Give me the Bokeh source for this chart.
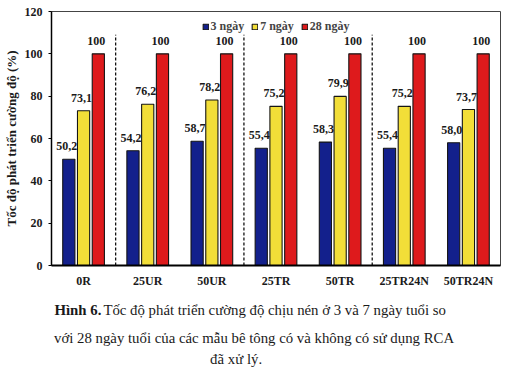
from bokeh.plotting import figure
from bokeh.layouts import column
from bokeh.models import Range1d, FixedTicker, ColumnDataSource
from bokeh.embed import file_html
from bokeh.resources import INLINE

# ---- data ----
categories = ["0R", "25UR", "50UR", "25TR", "50TR", "25TR24N", "50TR24N"]
day3 = [50.2, 54.2, 58.7, 55.4, 58.3, 55.4, 58.0]
day7 = [73.1, 76.2, 78.2, 75.2, 79.9, 75.2, 73.7]
day28 = [100, 100, 100, 100, 100, 100, 100]
series_names = ["3 ngày", "7 ngày", "28 ngày"]
y_ticks = [0, 20, 40, 60, 80, 100, 120]
separator_after = [0, 2, 4]          # dashed line after these groups
separator_top = 109

caption_bold = "Hình 6."
caption_lines = [
    "Tốc độ phát triển cường độ chịu nén ở 3 và 7 ngày tuổi so",
    "với 28 ngày tuổi của các mẫu bê tông có và không có sử dụng RCA",
    "đã xử lý.",
]

colors = ["#13208C", "#F2DE38", "#DE1A1C"]
offsets = [-0.23, 0.0, 0.23]
bar_w = 0.19
SERIF = "Liberation Serif"
W = 509
FL, FR = 50, 500   # frame left / right in pixels


def fmt(v):
    return "100" if v == 100 else f"{v:.1f}".replace(".", ",")


p = figure(width=W, height=290, output_backend="svg", toolbar_location=None,
           x_range=Range1d(-0.5, len(categories) - 0.5), y_range=Range1d(0, 120),
           min_border_left=FL, min_border_right=W - FR, min_border_top=11,
           min_border_bottom=25)
p.background_fill_color = "white"
p.border_fill_color = "white"
p.outline_line_color = "#444444"
p.outline_line_width = 1
p.grid.visible = False

idx = list(range(len(categories)))
for series, name, col, off in zip([day3, day7, day28], series_names, colors, offsets):
    src = ColumnDataSource(dict(x=[i + off for i in idx], top=series,
                                lab=[fmt(v) for v in series]))
    p.vbar(x="x", top="top", width=bar_w, source=src, fill_color=col,
           line_color="#151515", line_width=1.1, legend_label=name)
    p.text(x="x", y="top", text="lab", source=src, text_align="center",
           text_baseline="bottom", x_offset=-2, y_offset=-9,
           text_font=SERIF, text_font_style="bold", text_font_size="12px",
           text_color="#1a1a1a")

sx = [i + 0.5 for i in separator_after]
p.segment(x0=sx, y0=[0] * len(sx), x1=sx, y1=[separator_top] * len(sx),
          line_color="#111111", line_width=1.3, line_dash="3 2")

# axes
p.xaxis.ticker = FixedTicker(ticks=idx)
p.xaxis.major_label_overrides = {i: c for i, c in zip(idx, categories)}
p.xaxis.major_tick_out = 0
p.xaxis.major_tick_in = 0
p.xaxis.minor_tick_line_color = None
p.xaxis.axis_line_color = "black"
p.xaxis.axis_line_width = 2
p.xaxis.major_label_standoff = 8
p.xaxis.major_label_text_font = SERIF
p.xaxis.major_label_text_font_style = "bold"
p.xaxis.major_label_text_font_size = "12px"
p.xaxis.major_label_text_color = "#1a1a1a"

p.yaxis.ticker = FixedTicker(ticks=y_ticks)
p.yaxis.major_tick_out = 3
p.yaxis.major_tick_in = 0
p.yaxis.minor_tick_line_color = None
p.yaxis.axis_line_color = "black"
p.yaxis.axis_line_width = 1.5
p.yaxis.major_label_standoff = 6
p.yaxis.major_label_text_font = SERIF
p.yaxis.major_label_text_font_style = "bold"
p.yaxis.major_label_text_font_size = "12px"
p.yaxis.major_label_text_color = "#1a1a1a"
p.yaxis.axis_label = "Tốc độ phát triển cường độ (%)"
p.yaxis.axis_label_text_font = SERIF
p.yaxis.axis_label_text_font_style = "bold"
p.yaxis.axis_label_text_font_size = "13px"
p.yaxis.axis_label_text_color = "#1a1a1a"
p.yaxis.axis_label_standoff = 3

# legend
lg = p.legend[0]
lg.orientation = "horizontal"
lg.location = "top_center"
lg.margin = 6
lg.padding = 2
lg.spacing = 7
lg.glyph_width = 7
lg.glyph_height = 7
lg.label_height = 10
lg.label_standoff = 2
lg.label_text_font = SERIF
lg.label_text_font_style = "bold"
lg.label_text_font_size = "12px"
lg.border_line_alpha = 0
lg.background_fill_alpha = 0

# ---- caption panel (pixel coordinates, y downward) ----
CH = 78
c = figure(width=W, height=CH, output_backend="svg", toolbar_location=None,
           x_range=Range1d(FL, FR), y_range=Range1d(CH, 0),
           min_border_left=FL, min_border_right=W - FR, min_border_top=0,
           min_border_bottom=0, outline_line_color=None)
c.axis.visible = False
c.grid.visible = False
c.background_fill_color = "white"
c.border_fill_color = "white"
cap_size = "14.8px"
c.text(x=[53], y=[19], text=[caption_bold], text_font=SERIF, text_font_style="bold",
       text_font_size=cap_size, text_align="left", text_baseline="middle",
       text_color="#1a1a1a")
c.text(x=[102], y=[19], text=[caption_lines[0]], text_font=SERIF,
       text_font_size=cap_size, text_align="left", text_baseline="middle",
       text_color="#1a1a1a")
c.text(x=[253, 235], y=[47, 68], text=caption_lines[1:], text_font=SERIF,
       text_font_size=cap_size, text_align="center", text_baseline="middle",
       text_color="#1a1a1a")

layout = column(p, c, spacing=0)
open("out.html", "w").write(file_html(layout, INLINE))
